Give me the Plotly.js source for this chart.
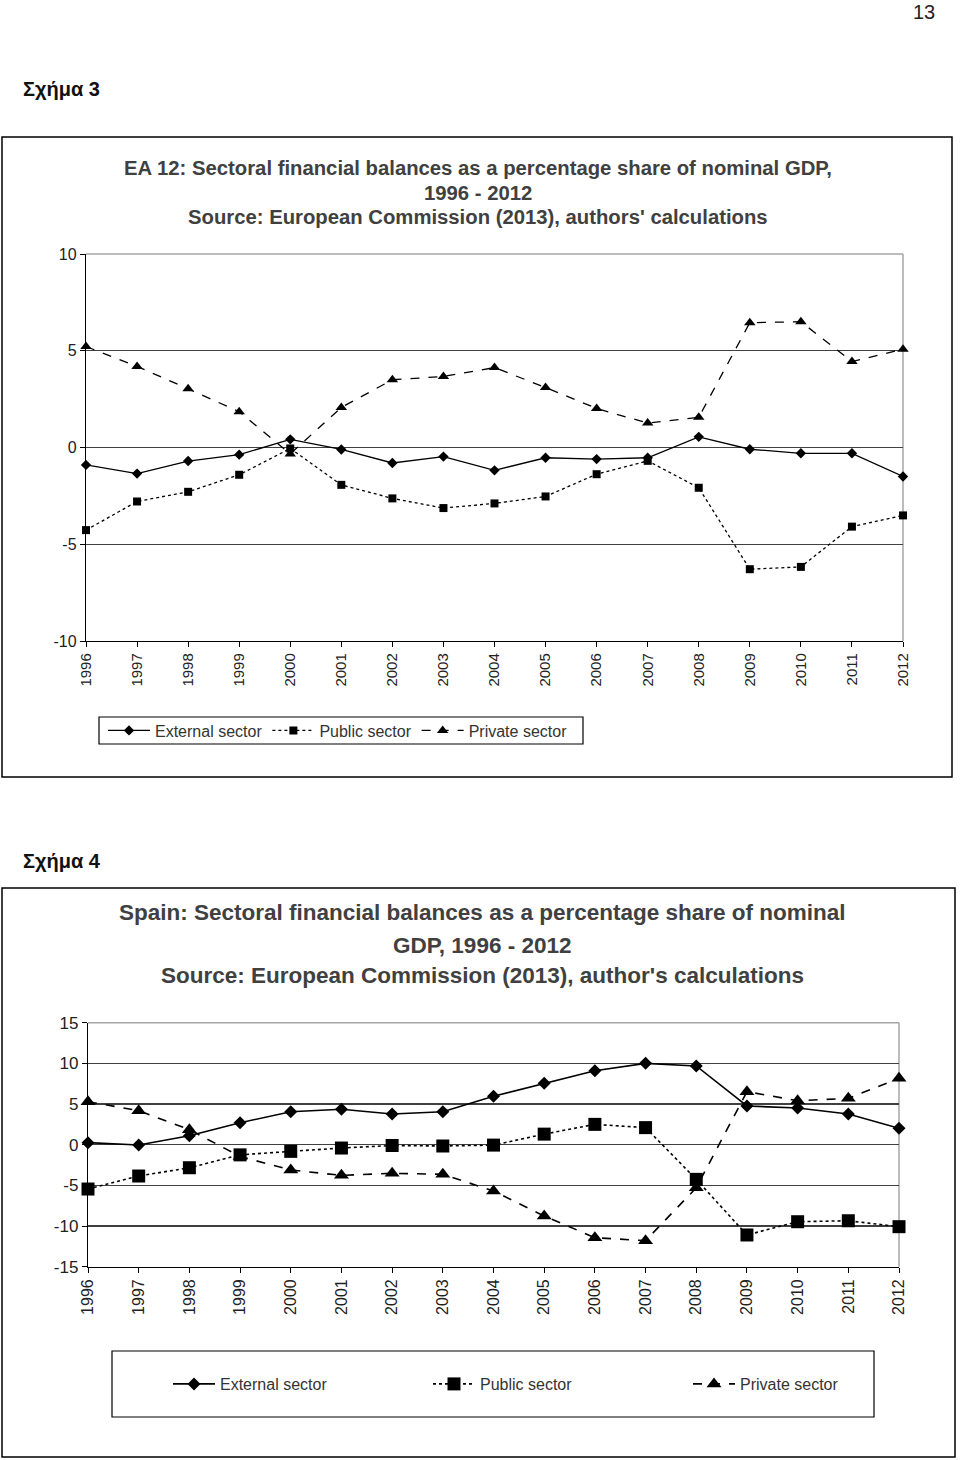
<!DOCTYPE html>
<html>
<head>
<meta charset="utf-8">
<script src="https://cdn.plot.ly/plotly-3.0.1.min.js"></script>
<style>
  html, body { margin: 0; padding: 0; background: #ffffff; }
  #chart { width: 960px; height: 1460px; }
</style>
</head>
<body>
<div id="chart"></div>
<script>
// ---------- data ----------
const years = ["1996","1997","1998","1999","2000","2001","2002","2003","2004","2005","2006","2007","2008","2009","2010","2011","2012"];
const seriesNames = ["External sector", "Public sector", "Private sector"];

// Figure 3: EA 12
const eaExternal = [-0.9, -1.35, -0.7, -0.37, 0.42, -0.1, -0.8, -0.47, -1.18, -0.53, -0.6, -0.53, 0.55, -0.09, -0.3, -0.3, -1.5];
const eaPublic   = [-4.27, -2.79, -2.29, -1.41, -0.05, -1.93, -2.63, -3.13, -2.89, -2.53, -1.38, -0.69, -2.08, -6.29, -6.17, -4.09, -3.51];
const eaPrivate  = [5.22, 4.19, 3.03, 1.85, -0.33, 2.07, 3.5, 3.67, 4.13, 3.1, 2.02, 1.26, 1.56, 6.45, 6.5, 4.44, 5.08];
const eaTickVals = [-10, -5, 0, 5, 10];
const eaTickText = ["-10", "-5", "0", "5", "10"];

// Figure 4: Spain
const esExternal = [0.25, -0.04, 1.1, 2.7, 4.06, 4.35, 3.78, 4.06, 5.95, 7.55, 9.1, 10.0, 9.68, 4.76, 4.51, 3.78, 2.01];
const esPublic   = [-5.45, -3.85, -2.83, -1.25, -0.82, -0.41, -0.1, -0.16, -0.05, 1.3, 2.5, 2.1, -4.26, -11.1, -9.47, -9.35, -10.08];
const esPrivate  = [5.29, 4.18, 1.85, -1.45, -3.11, -3.77, -3.52, -3.64, -5.69, -8.77, -11.43, -11.8, -5.3, 6.52, 5.41, 5.7, 8.17];
const esTickVals = [-15, -10, -5, 0, 5, 10, 15];
const esTickText = ["-15", "-10", "-5", "0", "5", "10", "15"];

const pageNumber = "13";
const fig3Label = "Σχήμα 3";
const fig4Label = "Σχήμα 4";
const fig3Title = ["EA 12: Sectoral financial balances as a percentage share of nominal GDP,", "1996 - 2012", "Source: European Commission (2013), authors' calculations"];
const fig4Title = ["Spain: Sectoral financial balances as a percentage share of nominal", "GDP, 1996 - 2012", "Source: European Commission (2013), author's calculations"];

// ---------- helpers ----------
const W = 960, H = 1460;
const px = x => x / W;
const py = y => 1 - y / H;
const FONT = "Liberation Sans, Arial, sans-serif";
const TITLE_COLOR = "#404040";

function mk(x, y, name, xa, ya, leg, dash, symbol, msize, lw) {
  return {
    type: "scatter", mode: "lines+markers", x: x, y: y, name: name,
    xaxis: xa, yaxis: ya, legend: leg, cliponaxis: false,
    line: { color: "#000000", width: lw, dash: dash },
    marker: { symbol: symbol, size: msize, color: "#000000" },
    showlegend: true, hoverinfo: "skip"
  };
}

const traces = [
  mk(years, eaExternal, seriesNames[0], "x", "y", "legend", "solid", "diamond", 8, 1.3),
  mk(years, eaPublic,   seriesNames[1], "x", "y", "legend", "dot", "square", 8, 1.3),
  mk(years, eaPrivate,  seriesNames[2], "x", "y", "legend", "dash", "triangle-up", 10, 1.3),
  mk(years, esExternal, seriesNames[0], "x2", "y2", "legend2", "solid", "diamond", 10, 1.6),
  mk(years, esPublic,   seriesNames[1], "x2", "y2", "legend2", "dot", "square", 13, 1.6),
  mk(years, esPrivate,  seriesNames[2], "x2", "y2", "legend2", "dash", "triangle-up", 13, 1.6)
];

function xAxis(dom, anchor, fs) {
  return {
    type: "category", domain: dom, anchor: anchor, range: [0, 16],
    showgrid: false, zeroline: false, showline: true, linecolor: "#000", linewidth: 1.2,
    ticks: "outside", ticklen: 5, tickcolor: "#000", tickwidth: 1,
    tickangle: -90, tickfont: { family: FONT, size: fs, color: "#222" }, fixedrange: true
  };
}
function yAxis(dom, anchor, rng, tv, tt, fs) {
  return {
    domain: dom, anchor: anchor, range: rng, tickmode: "array", tickvals: tv, ticktext: tt,
    showgrid: true, gridcolor: "#404040", gridwidth: 1.3, zeroline: false,
    showline: true, linecolor: "#000", linewidth: 1.2,
    ticks: "outside", ticklen: 5, tickcolor: "#000", tickwidth: 1,
    tickfont: { family: FONT, size: fs, color: "#222" }, fixedrange: true
  };
}

const shapes = [
  // outer frames
  { type: "rect", xref: "paper", yref: "paper", x0: px(2), x1: px(952), y0: py(777), y1: py(137), line: { color: "#000", width: 1.5 } },
  { type: "rect", xref: "paper", yref: "paper", x0: px(2), x1: px(955), y0: py(1457), y1: py(888), line: { color: "#000", width: 1.5 } },
  // legend frames
  { type: "rect", xref: "paper", yref: "paper", x0: px(99), x1: px(583), y0: py(744), y1: py(717), line: { color: "#000", width: 1.2 } },
  { type: "rect", xref: "paper", yref: "paper", x0: px(112), x1: px(874), y0: py(1417), y1: py(1351), line: { color: "#000", width: 1.2 } },
  // plot area top / right borders (gray)
  { type: "line", xref: "x domain", yref: "y domain", x0: 0, x1: 1, y0: 1, y1: 1, layer: "below", line: { color: "#a6a6a6", width: 1.5 } },
  { type: "line", xref: "x domain", yref: "y domain", x0: 1, x1: 1, y0: 0, y1: 1, layer: "below", line: { color: "#a6a6a6", width: 1.5 } },
  { type: "line", xref: "x2 domain", yref: "y2 domain", x0: 0, x1: 1, y0: 1, y1: 1, layer: "below", line: { color: "#a6a6a6", width: 1.5 } },
  { type: "line", xref: "x2 domain", yref: "y2 domain", x0: 1, x1: 1, y0: 0, y1: 1, layer: "below", line: { color: "#a6a6a6", width: 1.5 } }
];

function ann(text, x, y, size, bold, color, xanchor) {
  return {
    xref: "paper", yref: "paper", x: px(x), y: py(y), xanchor: xanchor || "center", yanchor: "middle",
    text: bold ? "<b>" + text + "</b>" : text, showarrow: false,
    font: { family: FONT, size: size, color: color }
  };
}

const annotations = [
  ann(pageNumber, 924, 12, 20, false, "#222", "center"),
  ann(fig3Label, 21, 89, 20, true, "#111", "left"),
  ann(fig4Label, 21, 861, 20, true, "#111", "left"),
  ann(fig3Title[0], 478, 168, 20.3, true, TITLE_COLOR),
  ann(fig3Title[1], 478, 193, 20.3, true, TITLE_COLOR),
  ann(fig3Title[2], 478, 217, 20.3, true, TITLE_COLOR),
  ann(fig4Title[0], 482, 912, 22.5, true, TITLE_COLOR),
  ann(fig4Title[1], 482, 945, 22.5, true, TITLE_COLOR),
  ann(fig4Title[2], 482, 975, 22.5, true, TITLE_COLOR)
];

const layout = {
  width: W, height: H,
  margin: { l: 0, r: 0, t: 0, b: 0, pad: 0, autoexpand: false },
  paper_bgcolor: "#ffffff", plot_bgcolor: "#ffffff",
  font: { family: FONT, color: "#222" },
  xaxis: xAxis([px(86), px(903)], "y", 15),
  yaxis: yAxis([py(641), py(254)], "x", [-10, 10], eaTickVals, eaTickText, 16),
  xaxis2: xAxis([px(88), px(899)], "y2", 16),
  yaxis2: yAxis([py(1266.7), py(1022.7)], "x2", [-15, 15], esTickVals, esTickText, 17),
  legend: {
    orientation: "h", x: px(103), xanchor: "left", y: py(730.5), yanchor: "middle",
    bgcolor: "rgba(0,0,0,0)", borderwidth: 0, itemwidth: 42,
    font: { family: FONT, size: 16, color: "#333" }, traceorder: "normal"
  },
  legend2: {
    orientation: "h", x: px(168), xanchor: "left", y: py(1384), yanchor: "middle",
    bgcolor: "rgba(0,0,0,0)", borderwidth: 0, itemwidth: 42, entrywidth: 203, entrywidthmode: "pixels",
    font: { family: FONT, size: 16, color: "#333" }, traceorder: "normal"
  },
  shapes: shapes,
  annotations: annotations,
  showlegend: true
};

Plotly.newPlot("chart", traces, layout, { staticPlot: true, displayModeBar: false });
</script>
</body>
</html>
